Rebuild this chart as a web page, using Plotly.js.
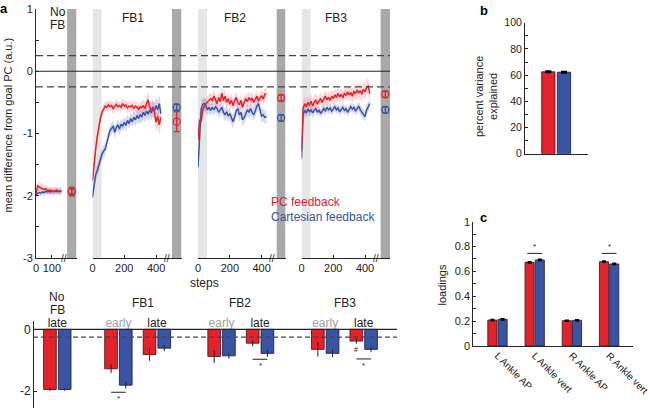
<!DOCTYPE html>
<html><head><meta charset="utf-8">
<script src="https://cdn.plot.ly/plotly-3.0.1.min.js"></script>
<style>html,body{margin:0;padding:0;background:#fff}#chart{width:650px;height:408px}</style>
</head><body><div id="chart"></div>
<script>
// ---------- DATA ----------
const stepsNoFB = [0,10,20,30,40,50,60,70,80,90,100,110,120,130,140,150,160];
const stepsFB = [0,10,20,30,40,50,60,70,80,90,100,110,120,130,140,150,160,170,180,190,200,210,220,230,240,250,260,270,280,290,300,310,320,330,340,350,360,370,380,390,400,410,420,430];

const noFBRed = [-1.97,-1.84,-1.86,-1.87,-1.89,-1.90,-1.89,-1.91,-1.92,-1.91,-1.92,-1.93,-1.92,-1.91,-1.93,-1.92,-1.92];
const noFBRedSem = [0.06,0.08,0.08,0.07,0.07,0.07,0.07,0.06,0.06,0.06,0.06,0.06,0.06,0.06,0.06,0.06,0.06];
const noFBBlue = [-1.99,-1.96,-1.95,-1.96,-1.94,-1.95,-1.93,-1.94,-1.93,-1.94,-1.93,-1.93,-1.92,-1.93,-1.92,-1.92,-1.93];
const noFBBlueSem = [0.05,0.05,0.05,0.05,0.05,0.05,0.05,0.05,0.05,0.05,0.05,0.05,0.05,0.05,0.05,0.05,0.05];

const fb1Red = [-1.76,-1.45,-1.25,-1.05,-0.88,-0.75,-0.66,-0.60,-0.56,-0.58,-0.54,
 -0.57,-0.55,-0.60,-0.56,-0.53,-0.57,-0.55,-0.58,-0.52,-0.56,-0.54,
 -0.59,-0.56,-0.57,-0.55,-0.60,-0.56,-0.58,-0.62,-0.57,-0.59,-0.55,
 -0.60,-0.52,-0.46,-0.58,-0.62,-0.57,-0.66,-0.82,-0.72,-0.86,-0.74];
const fb1RedSem = [0.10,0.11,0.11,0.10,0.10,0.09,0.09,0.08,0.08,0.08,0.08,
 0.08,0.09,0.08,0.08,0.09,0.08,0.08,0.09,0.09,0.08,0.08,
 0.09,0.09,0.08,0.09,0.10,0.09,0.09,0.10,0.09,0.10,0.10,
 0.11,0.12,0.12,0.11,0.12,0.13,0.14,0.15,0.15,0.16,0.15];
const fb1Blue = [-2.02,-1.82,-1.66,-1.60,-1.50,-1.40,-1.33,-1.28,-1.25,-1.15,-1.02,
 -0.95,-0.92,-0.88,-0.98,-0.90,-0.86,-0.93,-0.85,-0.88,-0.82,-0.87,
 -0.79,-0.84,-0.76,-0.81,-0.74,-0.78,-0.71,-0.76,-0.70,-0.73,-0.66,
 -0.71,-0.64,-0.69,-0.62,-0.67,-0.60,-0.64,-0.55,-0.62,-0.52,-0.68];
const fb1BlueSem = [0.10,0.11,0.11,0.11,0.11,0.10,0.10,0.10,0.10,0.10,0.09,
 0.09,0.09,0.09,0.10,0.09,0.09,0.10,0.09,0.09,0.09,0.10,
 0.09,0.09,0.10,0.09,0.10,0.10,0.10,0.10,0.11,0.10,0.11,
 0.11,0.12,0.11,0.12,0.12,0.13,0.13,0.14,0.14,0.15,0.15];

const fb2Red = [-1.10,-0.78,-0.80,-0.62,-0.56,-0.52,-0.49,-0.47,-0.44,-0.47,-0.40,
 -0.46,-0.52,-0.42,-0.49,-0.35,-0.47,-0.40,-0.50,-0.44,-0.53,-0.46,
 -0.55,-0.48,-0.42,-0.50,-0.54,-0.47,-0.58,-0.50,-0.44,-0.49,-0.42,
 -0.47,-0.43,-0.50,-0.46,-0.40,-0.48,-0.42,-0.39,-0.45,-0.37,-0.36];
const fb2RedSem = [0.14,0.13,0.12,0.11,0.10,0.10,0.10,0.10,0.10,0.10,0.11,
 0.10,0.10,0.11,0.10,0.12,0.10,0.11,0.10,0.10,0.10,0.11,
 0.10,0.10,0.11,0.10,0.10,0.10,0.11,0.10,0.10,0.10,0.10,
 0.10,0.10,0.10,0.10,0.10,0.10,0.10,0.10,0.10,0.10,0.10];
const fb2Blue = [-1.54,-1.10,-0.60,-0.53,-0.52,-0.56,-0.62,-0.58,-0.63,-0.58,-0.62,
 -0.57,-0.60,-0.66,-0.62,-0.58,-0.66,-0.70,-0.65,-0.72,-0.68,-0.76,
 -0.81,-0.74,-0.64,-0.60,-0.70,-0.66,-0.78,-0.75,-0.68,-0.62,-0.66,
 -0.60,-0.66,-0.70,-0.64,-0.56,-0.52,-0.62,-0.72,-0.70,-0.74,-0.73];
const fb2BlueSem = [0.14,0.13,0.12,0.10,0.10,0.10,0.09,0.09,0.09,0.09,0.09,
 0.09,0.09,0.10,0.09,0.09,0.10,0.10,0.10,0.10,0.10,0.10,
 0.11,0.10,0.10,0.10,0.11,0.10,0.10,0.10,0.10,0.10,0.10,
 0.10,0.10,0.10,0.10,0.10,0.10,0.10,0.11,0.10,0.10,0.10];

const fb3Red = [-1.27,-0.60,-0.52,-0.57,-0.50,-0.55,-0.48,-0.56,-0.50,-0.46,-0.53,
 -0.49,-0.44,-0.50,-0.45,-0.40,-0.46,-0.42,-0.47,-0.40,-0.44,-0.38,
 -0.42,-0.36,-0.41,-0.37,-0.43,-0.35,-0.39,-0.33,-0.38,-0.34,-0.40,
 -0.32,-0.36,-0.30,-0.35,-0.31,-0.37,-0.29,-0.33,-0.26,-0.24,-0.36];
const fb3RedSem = [0.14,0.14,0.12,0.12,0.11,0.11,0.12,0.12,0.11,0.11,0.10,
 0.10,0.10,0.10,0.10,0.10,0.10,0.10,0.10,0.10,0.10,0.10,
 0.10,0.10,0.10,0.10,0.10,0.10,0.10,0.11,0.11,0.11,0.11,
 0.11,0.11,0.12,0.12,0.12,0.12,0.12,0.12,0.13,0.13,0.12];
const fb3Blue = [-1.40,-0.70,-0.63,-0.67,-0.61,-0.65,-0.62,-0.67,-0.63,-0.60,-0.66,
 -0.62,-0.68,-0.63,-0.60,-0.64,-0.58,-0.62,-0.59,-0.64,-0.60,-0.57,
 -0.62,-0.59,-0.65,-0.61,-0.58,-0.63,-0.60,-0.66,-0.62,-0.57,-0.61,
 -0.58,-0.64,-0.60,-0.56,-0.62,-0.66,-0.70,-0.73,-0.62,-0.58,-0.52];
const fb3BlueSem = [0.14,0.11,0.09,0.08,0.08,0.08,0.08,0.08,0.07,0.07,0.07,
 0.07,0.07,0.07,0.07,0.07,0.07,0.07,0.07,0.07,0.07,0.07,
 0.07,0.07,0.07,0.07,0.07,0.07,0.07,0.07,0.07,0.07,0.07,
 0.07,0.07,0.07,0.07,0.08,0.08,0.08,0.08,0.08,0.08,0.08];

// late-phase summary (circles in dark bars)
const segNames = ['No FB','FB1','FB2','FB3'];
const lateRed = [-1.93,-0.81,-0.43,-0.37];
const lateRedErr = [0.07,0.16,0.05,0.05];
const lateBlue = [-1.93,-0.58,-0.75,-0.62];
const lateBlueErr = [0.04,0.05,0.05,0.05];
const goalBand = 0.25;

// bottom bars of panel a
const barBlock = ['No FB','FB1','FB1','FB2','FB2','FB3','FB3'];
const barPhase = ['late','early','late','early','late','early','late'];
const barRed = [-1.95,-1.28,-0.82,-0.88,-0.45,-0.65,-0.38];
const barRedErr = [0.05,0.14,0.20,0.21,0.10,0.23,0.09];
const barBlue = [-1.95,-1.81,-0.61,-0.86,-0.78,-0.78,-0.65];
const barBlueErr = [0.04,0.11,0.10,0.09,0.11,0.12,0.09];
const sigBlock = ['FB1','FB2','FB3'];
const sigPhase = ['early','late','late'];
const sigLevel = [-2.04,-0.97,-0.96];

// panel b
const varCats = ['var'];
const varRed = [62.5];
const varBlue = [62.2];
const varErr = [0.6];

// panel c
const loadCats = ['L Ankle AP','L Ankle vert','R Ankle AP','R Ankle vert'];
const loadRed = [0.209,0.673,0.204,0.678];
const loadBlue = [0.215,0.692,0.207,0.660];
const loadErr = [0.005,0.005,0.004,0.005];
const loadSig = ['L Ankle vert','R Ankle vert'];
const loadSigLevel = 0.745;

// ---------- STYLE / LAYOUT ----------
const W = 650, H = 408;
const px = v => v / W, py = v => 1 - v / H;
const RED = '#e3232b', BLUE = '#3b53a3';
const RED_BAND = 'rgba(238,95,105,0.25)', BLUE_BAND = 'rgba(95,105,205,0.25)';
const INK = '#222', AX = '#262626';
const FONT = 'Liberation Sans, Arial, Helvetica, sans-serif';

const segData = [
  {steps: stepsNoFB, r: noFBRed, rs: noFBRedSem, b: noFBBlue, bs: noFBBlueSem},
  {steps: stepsFB, r: fb1Red, rs: fb1RedSem, b: fb1Blue, bs: fb1BlueSem},
  {steps: stepsFB, r: fb2Red, rs: fb2RedSem, b: fb2Blue, bs: fb2BlueSem},
  {steps: stepsFB, r: fb3Red, rs: fb3RedSem, b: fb3Blue, bs: fb3BlueSem}
];
const segAxes = ['x','x2','x3','x4'];
const segDom = [[36,76.5],[92.5,181.5],[198,285.5],[301.5,390]];
const segRange = [255,560,550,557];
const segTicks = [[0,100],[0,200,400],[0,200,400],[0,200,400]];
const segDark = [[196,255],[500,560],[495,550],[498,557]];
const segLight = [null,[0,57],[0,57],[0,57]];
const segBreak = [176,468,465,469];

const traces = [];
function band(xa, steps, m, s, color) {
  const up = m.map((v,i)=>v+s[i]), lo = m.map((v,i)=>v-s[i]);
  return {type:'scatter', mode:'lines', xaxis:xa, yaxis:'y',
    x: steps.concat(steps.slice().reverse()), y: up.concat(lo.slice().reverse()),
    fill:'toself', fillcolor:color, line:{width:0}, hoverinfo:'skip', showlegend:false};
}
segData.forEach((d,i)=>{
  const xa = segAxes[i];
  traces.push(band(xa, d.steps, d.b, d.bs, BLUE_BAND));
  traces.push(band(xa, d.steps, d.r, d.rs, RED_BAND));
  traces.push({type:'scatter', mode:'lines', xaxis:xa, yaxis:'y', x:d.steps, y:d.b, line:{color:BLUE, width:1.5}, showlegend:false});
  traces.push({type:'scatter', mode:'lines', xaxis:xa, yaxis:'y', x:d.steps, y:d.r, line:{color:RED, width:1.5}, showlegend:false});
  const mid = (segDark[i][0]+segDark[i][1])/2;
  traces.push({type:'scatter', mode:'markers', xaxis:xa, yaxis:'y', x:[mid], y:[lateBlue[i]],
    marker:{symbol:'circle-open', size:7, color:BLUE, line:{width:1.3, color:BLUE}},
    error_y:{type:'data', array:[lateBlueErr[i]], color:BLUE, thickness:1.3, width:3}, showlegend:false});
  traces.push({type:'scatter', mode:'markers', xaxis:xa, yaxis:'y', x:[mid], y:[lateRed[i]],
    marker:{symbol:'circle-open', size:7, color:RED, line:{width:1.3, color:RED}},
    error_y:{type:'data', array:[lateRedErr[i]], color:RED, thickness:1.3, width:3}, showlegend:false});
});

// bottom bars
const blockAxes = {'No FB':'x5','FB1':'x6','FB2':'x7','FB3':'x8'};
const blockDom = {'No FB':[38.05,76.55],'FB1':[99.15,176.15],'FB2':[202.3,279.3],'FB3':[305.95,382.95]};
const BW = 0.33, ROFF = -0.356, BOFF = 0.026;
segNames.forEach(bk=>{
  const idx = barBlock.map((b,i)=>b===bk?i:-1).filter(i=>i>=0);
  const xa = blockAxes[bk];
  traces.push({type:'bar', xaxis:xa, yaxis:'y2', x: idx.map(i=>barPhase[i]), y: idx.map(i=>barRed[i]),
    width:BW, offset:ROFF, marker:{color:RED, line:{color:'#3a1010', width:0.8}},
    error_y:{type:'data', array: idx.map(i=>barRedErr[i]), color:INK, thickness:1, width:0}, showlegend:false});
  traces.push({type:'bar', xaxis:xa, yaxis:'y2', x: idx.map(i=>barPhase[i]), y: idx.map(i=>barBlue[i]),
    width:BW, offset:BOFF, marker:{color:BLUE, line:{color:'#101a3a', width:0.8}},
    error_y:{type:'data', array: idx.map(i=>barBlueErr[i]), color:INK, thickness:1, width:0}, showlegend:false});
});

// panel b
traces.push({type:'bar', xaxis:'x9', yaxis:'y3', x:varCats, y:varRed, width:0.212, offset:-0.234,
  marker:{color:RED, line:{color:'#3a1010', width:0.8}}, error_y:{type:'data', array:varErr, color:'#000', thickness:1.5, width:3}, showlegend:false});
traces.push({type:'bar', xaxis:'x9', yaxis:'y3', x:varCats, y:varBlue, width:0.212, offset:0.016,
  marker:{color:BLUE, line:{color:'#101a3a', width:0.8}}, error_y:{type:'data', array:varErr, color:'#000', thickness:1.5, width:3}, showlegend:false});

// panel c
traces.push({type:'bar', xaxis:'x10', yaxis:'y4', x:loadCats, y:loadRed, width:0.245, offset:-0.26,
  marker:{color:RED, line:{color:'#3a1010', width:0.8}}, error_y:{type:'data', array:loadErr, color:'#000', thickness:1.5, width:2}, showlegend:false});
traces.push({type:'bar', xaxis:'x10', yaxis:'y4', x:loadCats, y:loadBlue, width:0.245, offset:0.015,
  marker:{color:BLUE, line:{color:'#101a3a', width:0.8}}, error_y:{type:'data', array:loadErr, color:'#000', thickness:1.5, width:2}, showlegend:false});

const baseAx = {showgrid:false, zeroline:false, showline:true, linecolor:AX, linewidth:1,
  ticks:'inside', ticklen:3, tickcolor:AX, tickfont:{family:FONT, size:11, color:INK}};

const layout = {
  width:W, height:H, margin:{l:0,r:0,t:0,b:0}, paper_bgcolor:'#fff', plot_bgcolor:'rgba(0,0,0,0)',
  barmode:'overlay', showlegend:false, font:{family:FONT, color:INK},
  yaxis: Object.assign({}, baseAx, {domain:[py(258),py(9)], range:[-3,1], anchor:'x',
    tickvals:[-3,-2.5,-2,-1.5,-1,-0.5,0,0.5,1], ticktext:['-3','','-2','','-1','','0','','1']}),
  yaxis2: Object.assign({}, baseAx, {domain:[0,py(321)], range:[-2.55,0.27], anchor:'free', position:px(33),
    tickvals:[0,-2], ticktext:['0','-2'], tickfont:{family:FONT, size:12, color:INK}}),
  xaxis9: Object.assign({}, baseAx, {domain:[px(525),px(587.7)], anchor:'y3', type:'category', range:[-0.5,0.5], showticklabels:false, ticks:''}),
  yaxis3: Object.assign({}, baseAx, {domain:[py(153.7),py(22.7)], range:[0,100], anchor:'x9',
    tickvals:[0,10,20,30,40,50,60,70,80,90,100], ticktext:['0','','20','','40','','60','','80','','100'], tickfont:{family:FONT, size:10.5, color:INK}}),
  xaxis10: Object.assign({}, baseAx, {domain:[px(473.3),px(633.3)], anchor:'y4', type:'category', range:[-0.65,3.65],
    categoryarray:loadCats, tickangle:45, ticks:'', ticklabelshift:0, ticklabelstandoff:-1, tickfont:{family:FONT, size:10, color:INK}}),
  yaxis4: Object.assign({}, baseAx, {domain:[py(346),py(221.7)], range:[0,1], anchor:'x10',
    tickvals:[0,0.1,0.2,0.3,0.4,0.5,0.6,0.7,0.8,0.9,1], ticktext:['0','','0.2','','0.4','','0.6','','0.8','','1']}),
  shapes:[], annotations:[]
};
segAxes.forEach((xa,i)=>{
  const key = xa==='x' ? 'xaxis' : 'xaxis'+xa.slice(1);
  layout[key] = Object.assign({}, baseAx, {domain:[px(segDom[i][0]),px(segDom[i][1])], range:[0,segRange[i]], anchor:'y', tickvals:segTicks[i]});
  layout.shapes.push({type:'rect', xref:xa, yref:'y', x0:segDark[i][0], x1:segDark[i][1], y0:-3, y1:1.04, fillcolor:'#a9a9a9', line:{width:0}, layer:'below'});
  if (segLight[i]) layout.shapes.push({type:'rect', xref:xa, yref:'y', x0:segLight[i][0], x1:segLight[i][1], y0:-3, y1:1.04, fillcolor:'#e6e6e6', line:{width:0}, layer:'below'});
  layout.annotations.push({xref:xa, yref:'y', x:segBreak[i], y:-3, text:'//', showarrow:false, font:{family:FONT, size:10, color:AX}, xanchor:'center', yanchor:'middle'});
});
// goal lines
layout.shapes.push({type:'line', xref:'paper', yref:'y', x0:px(36), x1:px(390), y0:0, y1:0, line:{color:AX, width:1.2}});
[goalBand,-goalBand].forEach(v=>layout.shapes.push({type:'line', xref:'paper', yref:'y', x0:px(36), x1:px(390), y0:v, y1:v, line:{color:'#444', width:1.2, dash:'7px,4px'}}));
layout.shapes.push({type:'line', xref:'paper', yref:'y2', x0:px(33), x1:px(397), y0:0, y1:0, line:{color:AX, width:1.2}});
layout.shapes.push({type:'line', xref:'paper', yref:'y2', x0:px(33), x1:px(397), y0:-goalBand, y1:-goalBand, line:{color:'#444', width:1.2, dash:'5px,3px'}});

// bottom block x axes (phase labels on top of zero line)
segNames.forEach(bk=>{
  const xa = blockAxes[bk], key = 'xaxis'+xa.slice(1);
  const cats = barPhase.filter((p,i)=>barBlock[i]===bk);
  layout[key] = {domain:[px(blockDom[bk][0]),px(blockDom[bk][1])], type:'category', categoryarray:cats,
    range:[-0.5, cats.length-0.5], anchor:'free', position:py(329.3), side:'top', showline:false, showgrid:false, zeroline:false,
    ticks:'', tickvals:cats, ticktext:cats.map(c=>c==='early'?'<span style="color:#a0a0a0">early</span>':'late'),
    tickfont:{family:FONT, size:12, color:INK}};
});
sigBlock.forEach((bk,k)=>{
  const cats = barPhase.filter((p,i)=>barBlock[i]===bk);
  const ci = cats.indexOf(sigPhase[k]);
  const xa = blockAxes[bk];
  layout.shapes.push({type:'line', xref:xa, yref:'y2', x0:ci-0.19, x1:ci+0.19, y0:sigLevel[k], y1:sigLevel[k], line:{color:INK, width:1}});
  layout.annotations.push({xref:xa, yref:'y2', x:ci, y:sigLevel[k], text:'*', showarrow:false, yanchor:'top', font:{family:FONT, size:8, color:INK}});
});
// '#' marker under FB3 late red bar
layout.annotations.push({xref:'x8', yref:'y2', x:1-0.19, y:-0.65, text:'#', showarrow:false, font:{family:FONT, size:7, color:INK}});

// panel c significance
loadSig.forEach(c=>{
  const ci = loadCats.indexOf(c);
  layout.shapes.push({type:'line', xref:'x10', yref:'y4', x0:ci-0.2, x1:ci+0.2, y0:loadSigLevel, y1:loadSigLevel, line:{color:INK, width:1}});
  layout.annotations.push({xref:'x10', yref:'y4', x:ci, y:loadSigLevel, text:'*', showarrow:false, yanchor:'bottom', font:{family:FONT, size:8, color:INK}});
});

// text annotations
function T(x, y, text, opt) {
  layout.annotations.push(Object.assign({xref:'paper', yref:'paper', x:px(x), y:py(y), text:text, showarrow:false,
    xanchor:'center', yanchor:'middle', font:{family:FONT, size:12, color:INK}}, opt||{}));
}
T(4, 8, '<b>a</b>', {font:{family:FONT, size:13, color:'#000'}});
T(484, 10, '<b>b</b>', {font:{family:FONT, size:13, color:'#000'}});
T(484, 217, '<b>c</b>', {font:{family:FONT, size:13, color:'#000'}});
T(57.5, 11.7, 'No'); T(57.5, 25, 'FB');
T(133, 18, 'FB1'); T(235, 18, 'FB2'); T(336, 18, 'FB3');
T(204, 283, 'steps');
T(7.5, 125, 'mean difference from goal PC (a.u.)', {textangle:-90, font:{family:FONT, size:11, color:INK}});
T(269, 202, 'PC feedback', {xanchor:'left', font:{family:FONT, size:12, color:RED}});
T(269, 216.7, 'Cartesian feedback', {xanchor:'left', font:{family:FONT, size:12, color:BLUE}});
T(57.3, 296.7, 'No'); T(57.3, 310, 'FB');
T(142.5, 303.3, 'FB1'); T(240, 303.3, 'FB2'); T(345, 303.3, 'FB3');
T(486, 97, 'percent variance<br>explained', {textangle:-90, font:{family:FONT, size:11, color:INK}});
T(441.5, 285, 'loadings', {textangle:-90, font:{family:FONT, size:11, color:INK}});

Plotly.newPlot('chart', traces, layout, {staticPlot:true, displayModeBar:false});
</script></body></html>
